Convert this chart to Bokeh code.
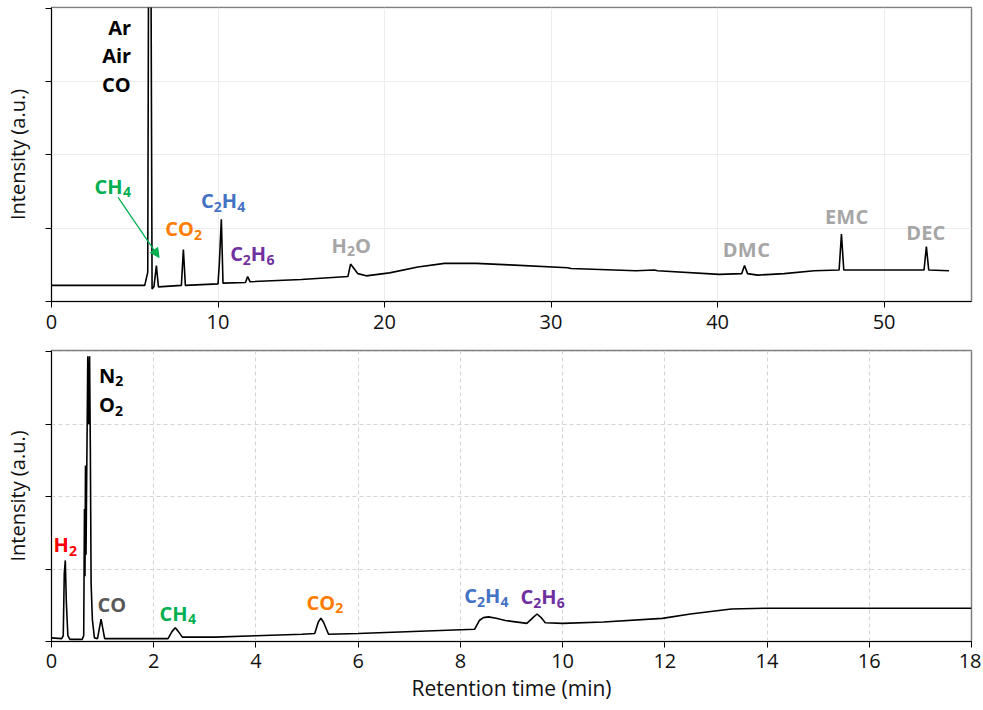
from bokeh.plotting import figure
from bokeh.layouts import column
from bokeh.models import (ColumnDataSource, Range1d, Arrow, NormalHead, FixedTicker,
                          CustomJSTickFormatter)
from bokeh.embed import file_html
from bokeh.resources import INLINE
from bokeh.core.properties import value

# ---------------- data: top chromatogram (long run) ----------------
top_time = [0.0, 5.6, 5.78, 5.84, 5.96, 6.04, 6.15, 6.3, 6.42, 7.8, 7.92, 8.04,
            10.0, 10.08, 10.2, 10.3, 11.65, 11.78, 11.92, 15.0, 17.8, 17.96, 18.4,
            18.9, 20.3, 22.0, 23.6, 25.5, 27.5, 31.0, 31.2, 35.1, 36.2, 36.4, 40.1,
            41.45, 41.62, 41.8, 42.4, 44.0, 45.8, 47.3, 47.44, 47.58, 52.4, 52.54,
            52.68, 53.9]
top_intensity = [0.22, 0.22, 0.40, 5.50, 5.50, 0.17, 0.20, 0.49, 0.20, 0.22, 0.71, 0.22,
                 0.24, 0.52, 1.12, 0.25, 0.26, 0.34, 0.27, 0.30, 0.34, 0.51, 0.38,
                 0.35, 0.39, 0.47, 0.52, 0.52, 0.50, 0.46, 0.45, 0.42, 0.43, 0.42, 0.37,
                 0.38, 0.49, 0.38, 0.36, 0.38, 0.42, 0.43, 0.92, 0.43, 0.43, 0.75,
                 0.43, 0.42]
# "_" marks the following character as a subscript
top_labels = ["Ar", "Air", "CO", "CH_4", "CO_2", "C_2H_4", "C_2H_6", "H_2O", "DMC", "EMC", "DEC"]
top_label_time = [4.76, 4.76, 4.76, 3.68, 7.94, 10.31, 12.06, 18.0, 41.73, 47.75, 52.5]
top_label_int = [3.74, 3.36, 2.96, 1.57, 0.99, 1.375, 0.65, 0.77, 0.71, 1.16, 0.94]
top_label_color = ["#000000", "#000000", "#000000", "#00b050", "#ff7c00", "#4472c4",
                   "#7030a0", "#a6a6a6", "#a6a6a6", "#a6a6a6", "#a6a6a6"]
top_label_align = ["right", "right", "right", "center", "center", "center", "center",
                   "center", "center", "center", "center"]
ch4_arrow_start = (4.0, 1.42)
ch4_arrow_end = (6.46, 0.60)

# ---------------- data: bottom chromatogram (short run) ----------------
bot_time = [0.0, 0.2, 0.23, 0.25, 0.27, 0.29, 0.32, 0.36, 0.6, 0.63, 0.645, 0.655,
            0.665, 0.675, 0.71, 0.73, 0.745, 0.76, 0.775, 0.8, 0.84, 0.9, 0.97, 1.04,
            2.28, 2.36, 2.42, 2.48, 2.56, 3.2, 4.0,
            4.9, 5.15, 5.22, 5.27, 5.32, 5.42, 6.0, 8.28, 8.37, 8.45, 8.55, 8.7, 8.88,
            9.3, 9.42, 9.5, 9.58, 9.66, 10.0, 10.8, 11.95, 12.5, 13.3, 14.0, 18.0]
bot_intensity = [0.05, 0.04, 0.08, 0.94, 1.12, 0.55, 0.08, 0.03, 0.03, 0.08, 1.83, 0.90,
                 2.43, 1.20, 3.94, 3.00, 3.94, 2.65, 0.80, 0.30, 0.05, 0.04, 0.31, 0.04,
                 0.04, 0.14, 0.19, 0.14, 0.06, 0.06, 0.08,
                 0.10, 0.11, 0.27, 0.32, 0.27, 0.10, 0.11, 0.17, 0.29, 0.33,
                 0.34, 0.32, 0.29, 0.25, 0.33, 0.38, 0.33, 0.26, 0.25, 0.27, 0.32, 0.38,
                 0.45, 0.46, 0.46]
bot_labels = ["N_2", "O_2", "H_2", "CO", "CH_4", "CO_2", "C_2H_4", "C_2H_6"]
bot_label_time = [0.93, 0.93, 0.27, 1.18, 2.47, 5.35, 8.51, 9.61]
bot_label_int = [3.68, 3.27, 1.34, 0.51, 0.39, 0.54, 0.63, 0.62]
bot_label_color = ["#000000", "#000000", "#ff0000", "#595959", "#00b050", "#ff7c00",
                   "#4472c4", "#7030a0"]
bot_label_align = ["left", "left", "center", "center", "center", "center", "center",
                   "center"]

FONT = "Open Sans"
MAIN_PX = 20
SUB_PX = 14
# approximate advance widths (em) of Open Sans Bold
ADV = {"A": 0.69, "r": 0.44, "i": 0.30, "C": 0.635, "O": 0.80, "H": 0.78, "D": 0.75,
       "M": 0.97, "E": 0.56, "N": 0.81, "2": 0.572, "4": 0.572, "6": 0.572}


def label_source(labels, xs, ys, colors, aligns):
    cols = dict(x=[], y=[], t=[], c=[], s=[], xo=[], yo=[])
    for lab, x, y, c, a in zip(labels, xs, ys, colors, aligns):
        segs = []
        i = 0
        while i < len(lab):
            if lab[i] == "_":
                segs.append((lab[i + 1], True))
                i += 2
            else:
                segs.append((lab[i], False))
                i += 1
        widths = [ADV.get(ch, 0.6) * (SUB_PX if sub else MAIN_PX) for ch, sub in segs]
        total = sum(widths)
        start = {"left": 0.0, "center": -total / 2, "right": -total}[a]
        pos = start
        for (ch, sub), w in zip(segs, widths):
            cols["x"].append(x)
            cols["y"].append(y)
            cols["t"].append(ch)
            cols["c"].append(c)
            cols["s"].append(f"{SUB_PX if sub else MAIN_PX}px")
            cols["xo"].append(pos)
            cols["yo"].append(6 if sub else 0)
            pos += w
    return ColumnDataSource(cols)


def style(p, xticks, dashed):
    p.outline_line_color = "#7f7f7f"
    p.outline_line_width = 1.5
    for ax in (p.xaxis[0], p.yaxis[0]):
        ax.axis_line_color = "#000000"
        ax.axis_line_width = 1
        ax.major_tick_line_color = "#000000"
        ax.major_tick_out = 6
        ax.major_tick_in = 0
        ax.minor_tick_line_color = None
        ax.major_label_text_font = FONT
        ax.major_label_text_font_size = "20px"
        ax.major_label_text_color = "#111111"
        ax.axis_label_text_font = FONT
        ax.axis_label_text_font_size = "20px"
        ax.axis_label_text_font_style = "normal"
        ax.axis_label_text_color = "#111111"
    p.xaxis[0].ticker = FixedTicker(ticks=xticks)
    p.yaxis[0].ticker = FixedTicker(ticks=[0, 1, 2, 3, 4])
    p.yaxis[0].formatter = CustomJSTickFormatter(code="return ''")
    p.yaxis[0].major_label_standoff = 0
    p.yaxis[0].axis_label = "Intensity (a.u.)"
    p.yaxis[0].axis_label_standoff = 15
    p.xaxis[0].major_label_standoff = 7
    if dashed:
        p.grid.grid_line_color = "#d4d4d4"
        p.grid.grid_line_dash = "4 3"
        p.grid.grid_line_width = 1
    else:
        p.grid.grid_line_color = "#ececec"
        p.grid.grid_line_width = 1


def draw_labels(p, src):
    p.text(x="x", y="y", text="t", text_color="c", text_align="left",
           text_baseline="middle", text_font=value(FONT), text_font_style="bold",
           text_font_size="s", x_offset="xo", y_offset="yo", source=src)


# ---------------- top figure ----------------
p1 = figure(frame_width=920, frame_height=294, output_backend="svg", toolbar_location=None,
            x_range=Range1d(0, 55.25), y_range=Range1d(0, 4.01),
            min_border_left=51, min_border_right=10, min_border_top=7, min_border_bottom=40)
style(p1, [0, 10, 20, 30, 40, 50], dashed=False)
p1.line(top_time, top_intensity, line_color="#000000", line_width=1.6)
draw_labels(p1, label_source(top_labels, top_label_time, top_label_int,
                             top_label_color, top_label_align))
p1.add_layout(Arrow(end=NormalHead(size=9, fill_color="#00b050", line_color="#00b050"),
                    x_start=ch4_arrow_start[0], y_start=ch4_arrow_start[1],
                    x_end=ch4_arrow_end[0], y_end=ch4_arrow_end[1],
                    line_color="#00b050", line_width=1.3))

# ---------------- bottom figure ----------------
p2 = figure(frame_width=920, frame_height=291, output_backend="svg", toolbar_location=None,
            x_range=Range1d(0, 18), y_range=Range1d(0, 4.02),
            min_border_left=51, min_border_right=10, min_border_top=9, min_border_bottom=10)
style(p2, list(range(0, 19, 2)), dashed=True)
p2.xaxis[0].axis_label = "Retention time (min)"
p2.xaxis[0].axis_label_text_font_size = "21px"
p2.xaxis[0].axis_label_standoff = 3
p2.xaxis[0].major_label_standoff = 6
p2.line(bot_time, bot_intensity, line_color="#000000", line_width=1.6)
draw_labels(p2, label_source(bot_labels, bot_label_time, bot_label_int,
                             bot_label_color, bot_label_align))

layout = column(p1, p2, spacing=0)
open("out.html", "w").write(file_html(layout, INLINE))
